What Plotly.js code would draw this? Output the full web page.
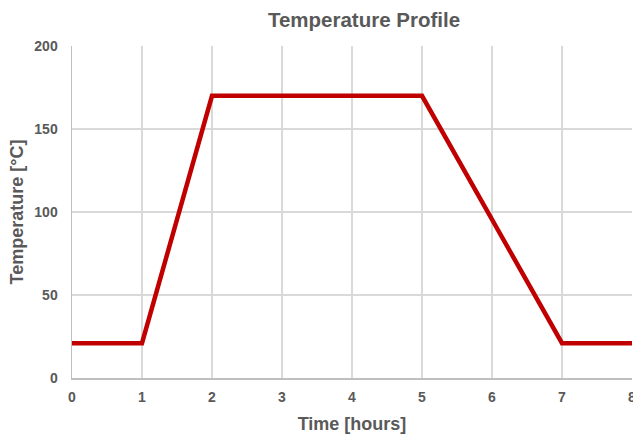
<!DOCTYPE html>
<html><head><meta charset="utf-8">
<script src="https://cdn.plot.ly/plotly-3.0.1.min.js"></script>
<style>body{margin:0;background:#fff}#c{width:633px;height:434px}</style>
</head><body><div id="c"></div>
<script>
const timeHours = [0, 1, 2, 5, 7, 8];
const temperatureC = [21, 21, 170, 170, 21, 21];
const xTicks = [0, 1, 2, 3, 4, 5, 6, 7, 8];
const yTicks = [0, 50, 100, 150, 200];

const fontFam = 'Liberation Sans, Arial, sans-serif';
const txt = '#595959';
Plotly.newPlot('c', [{
  x: timeHours, y: temperatureC, type: 'scatter', mode: 'lines',
  line: {color: '#C00000', width: 4.5}, hoverinfo: 'skip'
}], {
  width: 633, height: 434,
  margin: {l: 72, r: 1, t: 46, b: 56},
  paper_bgcolor: '#fff', plot_bgcolor: '#fff',
  showlegend: false,
  title: {text: '<b>Temperature Profile</b>', font: {family: fontFam, size: 20.5, color: txt}, x: 0.575, xanchor: 'center', y: 0.955, yanchor: 'middle'},
  xaxis: {
    range: [0, 8], tickvals: xTicks, ticktext: xTicks.map(v => '<b>' + v + '</b>'),
    showgrid: true, gridcolor: '#d9d9d9', gridwidth: 1.5,
    showline: true, linecolor: '#bfbfbf', linewidth: 1.5,
    zeroline: false, ticks: '', ticklabelstandoff: 6, ticklabeloverflow: 'allow',
    tickfont: {family: fontFam, size: 14, color: txt},
    title: {text: '<b>Time [hours]</b>', font: {family: fontFam, size: 18, color: txt}, standoff: 13}
  },
  yaxis: {
    range: [0, 200], tickvals: yTicks, ticktext: yTicks.map(v => '<b>' + v + '</b>'),
    showgrid: true, gridcolor: '#d9d9d9', gridwidth: 1.5,
    showline: true, linecolor: '#bfbfbf', linewidth: 1.5,
    zeroline: false, ticks: '', ticklabelstandoff: 10,
    tickfont: {family: fontFam, size: 14, color: txt},
    title: {text: '<b>Temperature [°C]</b>', font: {family: fontFam, size: 18, color: txt}, standoff: 6}
  }
}, {staticPlot: true, displayModeBar: false});
</script></body></html>
